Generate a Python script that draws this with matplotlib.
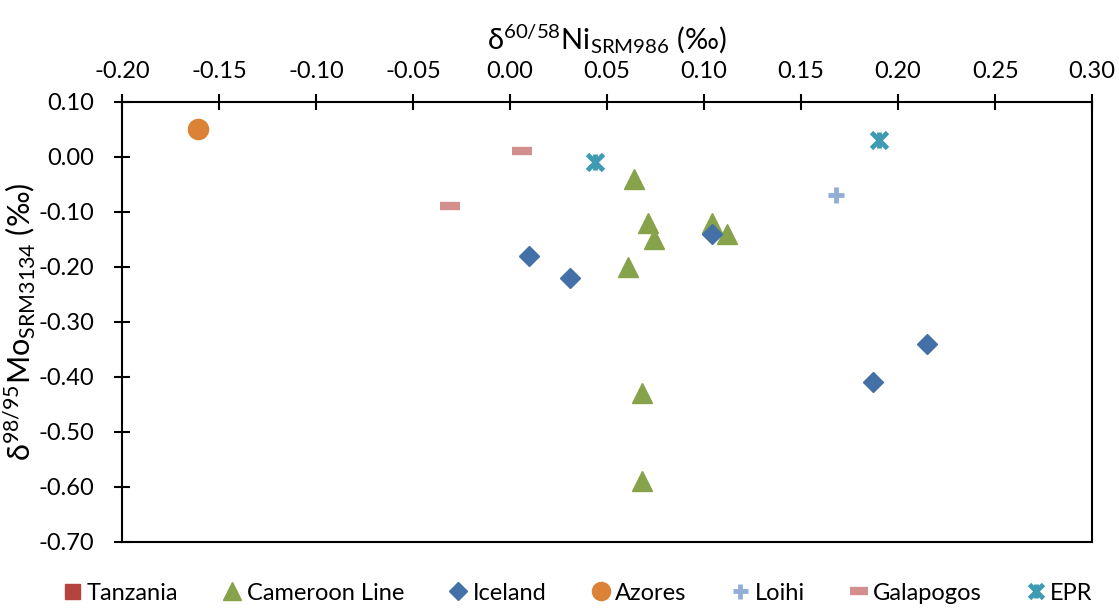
import numpy as np
import matplotlib.pyplot as plt
from matplotlib.legend_handler import HandlerTuple

plt.rcParams['font.family'] = ['Lato', 'DejaVu Sans']
plt.rcParams['mathtext.fontset'] = 'custom'
plt.rcParams['mathtext.rm'] = 'Lato'
plt.rcParams['mathtext.it'] = 'Lato:italic'

# data (x = d60/58Ni, y = d98/95Mo)
tanzania_x = []
tanzania_y = []
cameroon_x = [0.064, 0.071, 0.074, 0.061, 0.104, 0.112, 0.068, 0.068]
cameroon_y = [-0.04, -0.12, -0.15, -0.20, -0.12, -0.14, -0.43, -0.59]
iceland_x = [0.010, 0.031, 0.104, 0.187, 0.215]
iceland_y = [-0.18, -0.22, -0.14, -0.41, -0.34]
azores_x = [-0.161]
azores_y = [0.05]
loihi_x = [0.168]
loihi_y = [-0.07]
galapagos_x = [0.006, -0.031]
galapagos_y = [0.01, -0.09]
epr_x = [0.044, 0.190]
epr_y = [-0.01, 0.03]

xticks = np.round(np.arange(-0.20, 0.301, 0.05), 2) + 0.0
yticks = np.round(np.arange(-0.70, 0.101, 0.10), 2) + 0.0

fig = plt.figure(figsize=(11.19, 6.08), dpi=100)
ax = fig.add_axes([0.109, 0.109, 0.867, 0.724])

h_tan, = ax.plot(tanzania_x, tanzania_y, ls='none', marker='s', ms=12, color='#B5443F')
h_cam, = ax.plot(cameroon_x, cameroon_y, ls='none', marker='^', ms=15, color='#86A24A')
h_ice, = ax.plot(iceland_x, iceland_y, ls='none', marker='D', ms=10.5, color='#4470A8')
h_azo, = ax.plot(azores_x, azores_y, ls='none', marker='o', ms=14.5, color='#DC8236')
h_loi, = ax.plot(loihi_x, loihi_y, ls='none', marker='+', ms=12, mew=3.5, color='#93AED6')
h_gal, = ax.plot(galapagos_x, galapagos_y, ls='none', marker='_', ms=15, mew=6, color='#D38E8E')
h_epr1, = ax.plot(epr_x, epr_y, ls='none', marker='x', ms=11, mew=3.5, color='#3E9BB3')
h_epr2, = ax.plot(epr_x, epr_y, ls='none', marker='|', ms=11, mew=3.5, color='#3E9BB3')

ax.set_xlim(-0.20, 0.30)
ax.set_ylim(-0.70, 0.10)
ax.set_xticks(xticks)
ax.set_yticks(yticks)
ax.set_xticklabels([f'{t + 0.0:.2f}'.replace('-0.00', '0.00') for t in xticks])
ax.set_yticklabels([f'{t + 0.0:.2f}'.replace('-0.00', '0.00') for t in yticks])
ax.xaxis.tick_top()
ax.xaxis.set_label_position('top')
ax.tick_params(axis='both', direction='inout', length=12, width=1.5, labelsize=17)
ax.tick_params(axis='x', pad=8)
ax.tick_params(axis='y', pad=14)
for s in ax.spines.values():
    s.set_linewidth(1.5)

ax.set_xlabel('δ$^{60/58}$Ni$_{\\mathrm{SRM986}}$ (‰)', fontsize=21, labelpad=8)
ax.set_ylabel('δ$^{98/95}$Mo$_{\\mathrm{SRM3134}}$ (‰)', fontsize=22)
ax.yaxis.set_label_coords(-0.088, 0.5)

ax.legend([h_tan, h_cam, h_ice, h_azo, h_loi, h_gal, (h_epr1, h_epr2)],
          ['Tanzania', 'Cameroon Line', 'Iceland', 'Azores', 'Loihi', 'Galapogos', 'EPR'],
          handler_map={tuple: HandlerTuple(ndivide=1, pad=0)},
          loc='center', bbox_to_anchor=(0.47, -0.117), ncol=7, frameon=False,
          fontsize=17, handlelength=0.8, handletextpad=0.2, columnspacing=1.9,
          markerscale=0.9)

fig.savefig('out.png', dpi=100)
